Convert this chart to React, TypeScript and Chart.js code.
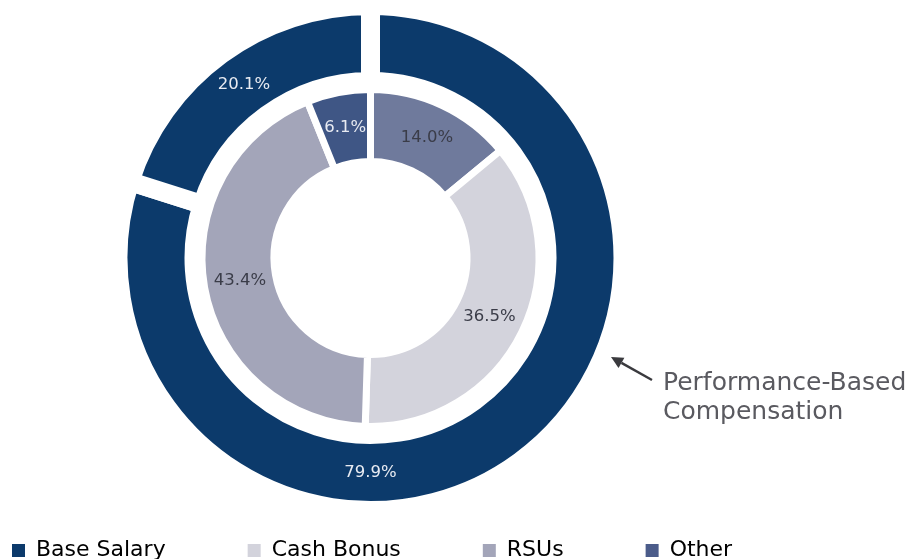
import React, { useEffect, useRef } from "react";
import { Chart, registerables } from "chart.js";

Chart.register(...registerables);

// ---- data ----
const LEGEND_LABELS = ["Base Salary", "Cash Bonus", "RSUs", "Other"];
const LEGEND_COLORS = ["#0c3a6b", "#d3d3dc", "#a3a5b9", "#4b5c8a"];

const OUTER_LABELS = ["Performance-Based Compensation", "Base Salary"];
const OUTER_VALUES = [79.9, 20.1];
const OUTER_COLORS = ["#0c3a6b", "#0c3a6b"];
const OUTER_TEXT_COLORS = ["#e8ebf2", "#e8ebf2"];

const INNER_LABELS = ["Other Performance", "Cash Bonus", "RSUs", "Other"];
const INNER_VALUES = [14.0, 36.5, 43.4, 6.1];
const INNER_COLORS = ["#6f7a9c", "#d3d3dc", "#a3a5b9", "#3f5685"];
const INNER_TEXT_COLORS = ["#3a3c48", "#3a3c48", "#3a3c48", "#e8ebf2"];

const ANNOTATION_LINES = ["Performance-Based", "Compensation"];

const FONT = "'DejaVu Sans', 'Open Sans', sans-serif";

const sliceLabels = {
  id: "sliceLabels",
  afterDatasetsDraw(chart: any) {
    const ctx = chart.ctx;
    const sets = [
      { di: 0, values: OUTER_VALUES, colors: OUTER_TEXT_COLORS, angles: [Math.PI / 2, null] },
      { di: 2, values: INNER_VALUES, colors: INNER_TEXT_COLORS, angles: [null, null, null, null] },
    ];
    ctx.save();
    ctx.font = `16.5px ${FONT}`;
    ctx.textAlign = "center";
    ctx.textBaseline = "middle";
    sets.forEach((s) => {
      const meta = chart.getDatasetMeta(s.di);
      meta.data.forEach((arc: any, i: number) => {
        const p = arc.getProps(["x", "y", "startAngle", "endAngle", "innerRadius", "outerRadius"], true);
        const a = s.angles[i] != null ? (s.angles[i] as number) : (p.startAngle + p.endAngle) / 2;
        const r = (p.innerRadius + p.outerRadius) / 2;
        ctx.fillStyle = s.colors[i];
        ctx.fillText(s.values[i].toFixed(1) + "%", p.x + Math.cos(a) * r, p.y + Math.sin(a) * r);
      });
    });
    ctx.restore();
  },
};

const annotation = {
  id: "annotation",
  afterDraw(chart: any) {
    const ctx = chart.ctx;
    const arc = chart.getDatasetMeta(0).data[0];
    if (!arc) return;
    const cx = arc.x;
    const cy = arc.y;
    const tipX = cx + 240.5;
    const tipY = cy + 99;
    const tailX = cx + 281.5;
    const tailY = cy + 122;
    ctx.save();
    ctx.strokeStyle = "#3a3a3e";
    ctx.fillStyle = "#3a3a3e";
    ctx.lineWidth = 2.4;
    const ang = Math.atan2(tipY - tailY, tipX - tailX);
    const headLen = 12;
    const headW = 6;
    const baseX = tipX - Math.cos(ang) * headLen;
    const baseY = tipY - Math.sin(ang) * headLen;
    ctx.beginPath();
    ctx.moveTo(tailX, tailY);
    ctx.lineTo(baseX, baseY);
    ctx.stroke();
    ctx.beginPath();
    ctx.moveTo(tipX, tipY);
    ctx.lineTo(baseX + Math.sin(ang) * headW, baseY - Math.cos(ang) * headW);
    ctx.lineTo(baseX - Math.sin(ang) * headW, baseY + Math.cos(ang) * headW);
    ctx.closePath();
    ctx.fill();
    ctx.fillStyle = "#5a5a60";
    ctx.font = `25px ${FONT}`;
    ctx.textAlign = "left";
    ctx.textBaseline = "alphabetic";
    ctx.fillText(ANNOTATION_LINES[0], cx + 292.5, cy + 132);
    ctx.fillText(ANNOTATION_LINES[1], cx + 292.5, cy + 160.5);
    ctx.restore();
  },
};

export default function App() {
  const ref = useRef<HTMLCanvasElement | null>(null);
  useEffect(() => {
    if (!ref.current) return;
    const chart = new Chart(ref.current, {
      type: "doughnut",
      data: {
        labels: INNER_LABELS,
        datasets: [
          {
            label: "Outer",
            data: OUTER_VALUES,
            backgroundColor: OUTER_COLORS,
            borderColor: "#ffffff",
            borderWidth: 19,
            hoverBorderWidth: 19,
            borderAlign: "center",
            weight: 76,
            clip: false,
          } as any,
          {
            label: "spacer",
            data: [1],
            backgroundColor: "rgba(0,0,0,0)",
            borderWidth: 0,
            borderAlign: "inner",
            weight: 8,
            clip: false,
          } as any,
          {
            label: "Inner",
            data: INNER_VALUES,
            backgroundColor: INNER_COLORS,
            borderColor: "#ffffff",
            borderWidth: 7,
            hoverBorderWidth: 7,
            borderAlign: "center",
            weight: 72,
            clip: false,
          } as any,
        ],
      },
      options: {
        animation: false,
        responsive: true,
        maintainAspectRatio: false,
        events: [],
        radius: 252.5,
        cutout: "38.22%",
        layout: { padding: { left: -70, right: 0, top: 58.5, bottom: -12.5 } },
        plugins: {
          tooltip: { enabled: false },
          title: {
            display: true,
            position: "right",
            text: " ",
            fullSize: false,
            font: { size: 20, lineHeight: 1 },
            padding: 73,
          },
          legend: {
            display: true,
            position: "bottom",
            align: "start",
            labels: {
              boxWidth: 13,
              boxHeight: 13,
              padding: 82,
              color: "#34405a",
              font: { family: FONT, size: 22 },
              generateLabels: () =>
                LEGEND_LABELS.map((text, i) => ({
                  text,
                  fillStyle: LEGEND_COLORS[i],
                  strokeStyle: LEGEND_COLORS[i],
                  lineWidth: 0,
                  hidden: false,
                  index: i,
                })),
            },
          },
        },
      } as any,
      plugins: [sliceLabels, annotation],
    });
    return () => chart.destroy();
  }, []);
  return (
    <div style={{ position: "fixed", left: 0, top: 0, width: 907, height: 559, background: "#ffffff" }}>
      <canvas ref={ref} />
    </div>
  );
}
